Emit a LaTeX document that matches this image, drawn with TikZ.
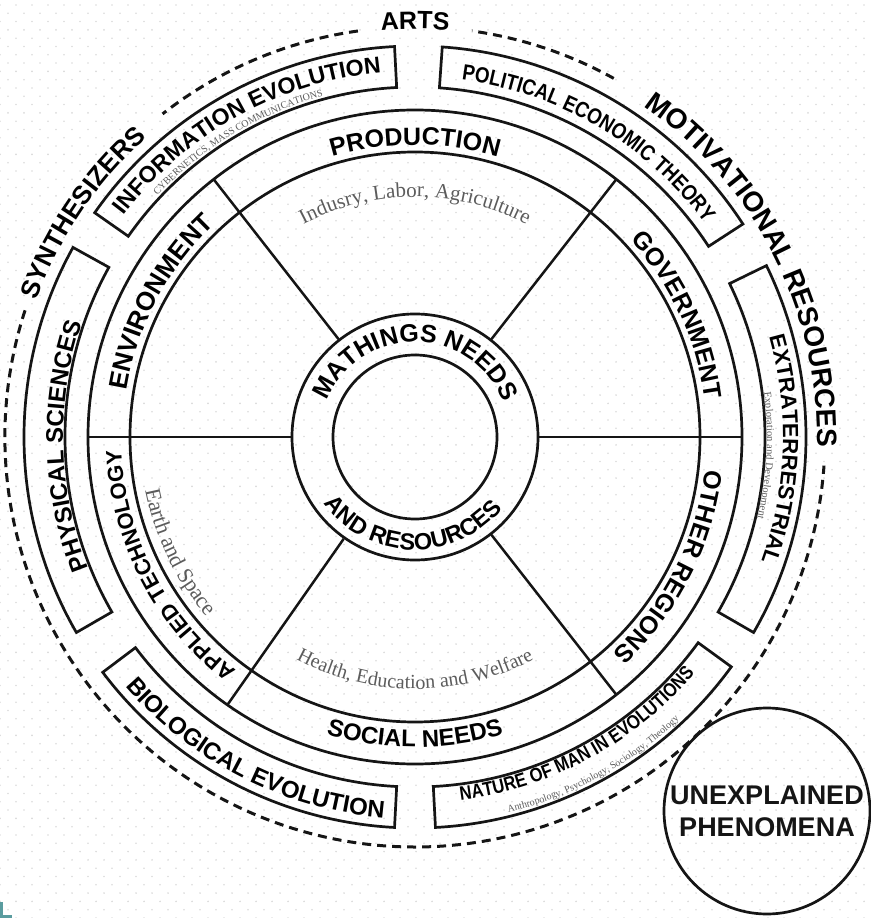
\documentclass[tikz,border=0pt]{standalone}
\usepackage{fontspec}
\setmainfont{Liberation Sans}
\newfontfamily\notefamily{Liberation Serif}
\newfontfamily\narrowfamily[FakeStretch=0.85]{Liberation Sans}
\usetikzlibrary{decorations.text, patterns}
\definecolor{cink}{HTML}{151515}
\definecolor{cnote}{HTML}{5C5C5C}
\definecolor{cdots}{HTML}{DADADA}
\definecolor{cteal}{HTML}{5A9C9F}
\newcommand{\fs}[1]{\fontsize{#1}{#1}\selectfont}
\pgfdeclarepatternformonly{bgdots}{\pgfpoint{-1pt}{-1pt}}{\pgfpoint{17pt}{17.6pt}}{\pgfpoint{16pt}{16.6pt}}{%
  \pgfpathcircle{\pgfpoint{0pt}{0pt}}{0.9pt}%
  \pgfpathcircle{\pgfpoint{8pt}{8.3pt}}{0.9pt}%
  \pgfusepath{fill}}
\tikzset{
  every picture/.style={line width=2.6pt, color=cink},
  ring/.style={draw=cink, line width=2.7pt},
  spoke/.style={draw=cink, line width=2.5pt},
  labelbox/.style={draw=cink, line width=2.7pt, line join=miter},
  halo/.style={draw=cink, line width=3pt, dash pattern=on 9pt off 6pt},
  curved/.style 2 args={decorate, decoration={text along path, text align=center, text={|#1|#2}}},
  big/.style={font=\bfseries\fontsize{27}{32}\selectfont, align=center},
}

\begin{document}
\begin{tikzpicture}[x=1pt, y=1pt]
  \useasboundingbox (-415,-481) rectangle (455,437);
  \fill[pattern=bgdots, pattern color=cdots] (-415,-481) rectangle (455,437);
  \fill[cteal] (-415,-481) rectangle (-412,-465);
  \fill[cteal] (-415,-481) rectangle (-403,-478);

  % hub and wheel
  \node[circle, draw, line width=2.7pt, minimum size=164pt, inner sep=0pt] (core) at (0,0) {};
  \node[circle, draw, line width=2.7pt, minimum size=246pt, inner sep=0pt] (hub) at (0,0) {};
  \draw[ring] (0,0) circle[radius=285];
  \draw[ring] (0,0) circle[radius=327];
  \foreach \a in {0, 52, 128, 180, 235, 308}
    \draw[spoke] (hub.\a) -- (\a:327);

  % outer boxes
  \foreach \a/\b in {-30/26, 33/86, 93/145, 151/210, 217/267, 273/324}
    \draw[labelbox] (\a:350) arc[start angle=\a, end angle=\b, radius=350] -- (\b:391) arc[start angle=\b, end angle=\a, radius=391] -- cycle;

  % dashed rim
  \draw[halo] (98:410) arc[start angle=98, end angle=128, radius=410];
  \draw[halo] (162:410) arc[start angle=162, end angle=356, radius=410];
  \draw[halo] (61:410) arc[start angle=61, end angle=82, radius=410];

  \node[circle, draw, line width=2.7pt, minimum size=206pt, inner sep=0pt, big] (unexplained) at (352,-374) {UNEXPLAINED\\PHENOMENA};

  % hub text
  \path[curved={\bfseries\fs{25}}{MATHINGS NEEDS}] (170:95) arc[start angle=170, end angle=9, radius=95];
  \path[curved={\bfseries\fs{23.5}}{AND RESOURCES}] (198:113) arc[start angle=198, end angle=339, radius=113];

  % wheel text
  \path[curved={\bfseries\fs{25}}{PRODUCTION}] (128:292) arc[start angle=128, end angle=52, radius=292];
  \path[curved={\bfseries\fs{25}}{GOVERNMENT}] (50:292) arc[start angle=50, end angle=0, radius=292];
  \path[curved={\bfseries\fs{25}}{OTHER REGIONS}] (-2:292) arc[start angle=-2, end angle=-52, radius=292];
  \path[curved={\bfseries\fs{24}}{SOCIAL NEEDS}] (-128:310) arc[start angle=-128, end angle=-52, radius=310];
  \path[curved={\bfseries\fs{22}}{APPLIED TECHNOLOGY}] (235.5:294) arc[start angle=235.5, end angle=179.5, radius=294];
  \path[curved={\bfseries\fs{26}}{ENVIRONMENT}] (178:292) arc[start angle=178, end angle=126, radius=292];

  \path[curved={\notefamily\fs{21}\color{cnote}}{Indusry, Labor, Agriculture}] (130:240) arc[start angle=130, end angle=50, radius=240];
  \path[curved={\notefamily\fs{22}\color{cnote}}{Earth and Space}] (184:275) arc[start angle=184, end angle=228, radius=275];
  \path[curved={\notefamily\fs{20}\color{cnote}}{Health, Education and Welfare}] (-130:252) arc[start angle=-130, end angle=-50, radius=252];

  % box text
  \path[curved={\bfseries\fs{23}}{INFORMATION EVOLUTION}] (146:366) arc[start angle=146, end angle=92, radius=366];
  \path[curved={\notefamily\fs{10}\color{cnote}}{CYBERNETICS, MASS COMMUNICATIONS}] (146:353) arc[start angle=146, end angle=96, radius=353];
  \path[curved={\narrowfamily\bfseries\fs{22}}{POLITICAL ECONOMIC THEORY}] (87:360) arc[start angle=87, end angle=32, radius=360];
  \path[curved={\bfseries\fs{22}}{EXTRATERRESTRIAL}] (25:368) arc[start angle=25, end angle=-29, radius=368];
  \path[curved={\notefamily\fs{10.5}\color{cnote}}{Exploration and Development}] (24:352) arc[start angle=24, end angle=-30, radius=352];
  \path[curved={\narrowfamily\bfseries\fs{19.5}}{NATURE OF MAN IN EVOLUTIONS}] (-88:366) arc[start angle=-88, end angle=-35, radius=366];
  \path[curved={\notefamily\fs{10}\color{cnote}}{Anthropology, Psychology, Sociology, Theology}] (-88:387) arc[start angle=-88, end angle=-35, radius=387];
  \path[curved={\bfseries\fs{24}}{BIOLOGICAL EVOLUTION}] (216:382) arc[start angle=216, end angle=270, radius=382];
  \path[curved={\bfseries\fs{24}}{PHYSICAL SCIENCES}] (210:352) arc[start angle=210, end angle=153, radius=352];

  % rim text
  \path[curved={\bfseries\fs{25}}{ARTS}] (105:408) arc[start angle=105, end angle=75, radius=408];
  \path[curved={\bfseries\fs{28}}{MOTIVATIONAL RESOURCES}] (62:402) arc[start angle=62, end angle=-8, radius=402];
  \path[curved={\bfseries\fs{26}}{SYNTHESIZERS}] (165:402) arc[start angle=165, end angle=127, radius=402];
\end{tikzpicture}
\end{document}
